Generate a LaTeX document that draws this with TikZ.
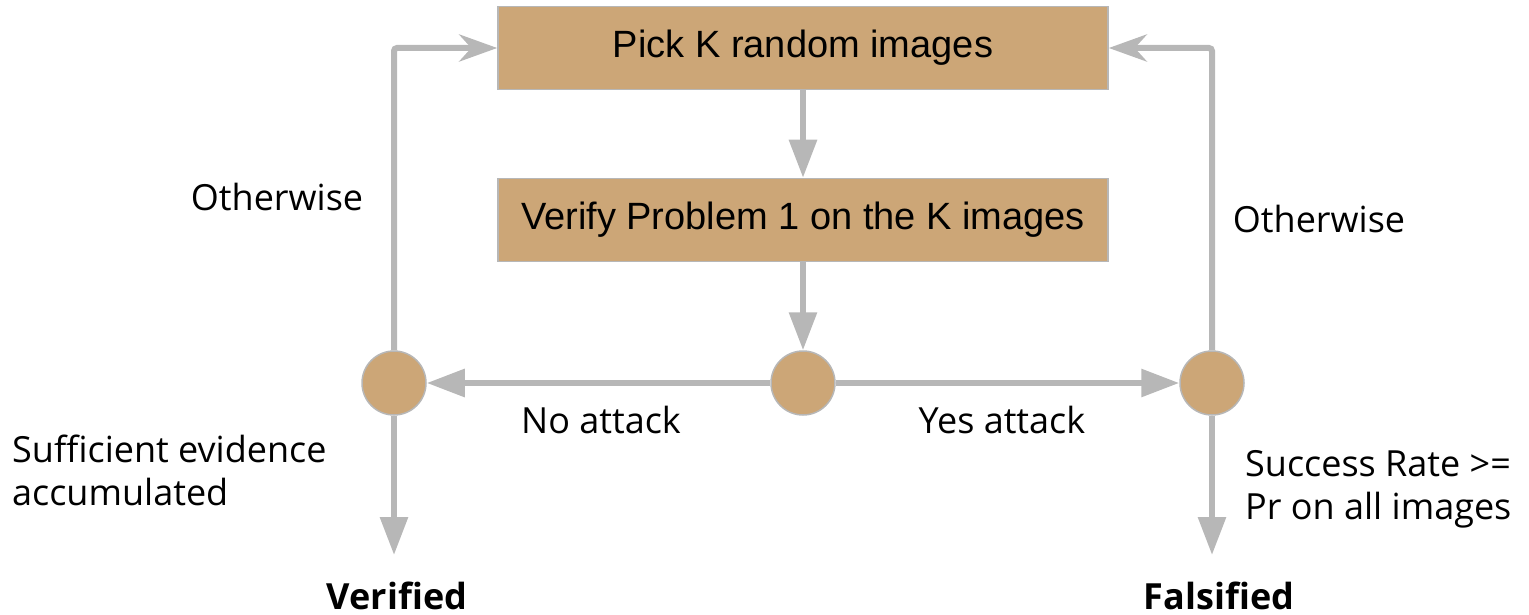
\documentclass[tikz,border=0pt]{standalone}
\usepackage{fontspec}
\setmainfont{Open Sans}
\newfontfamily\boxfont{Liberation Sans}
\usepackage{xcolor}
\usetikzlibrary{arrows.meta, positioning}
\definecolor{boxtan}{RGB}{204,166,119}
\definecolor{linegray}{RGB}{183,183,183}

\begin{document}
\begin{tikzpicture}[
			x=1pt, y=-1pt,
			every node/.style={inner sep=0pt, font=\fontsize{36}{43}\selectfont},
			process/.style={rectangle, draw=linegray, line width=1.5pt, fill=boxtan, minimum width=610pt, minimum height=83pt, font=\boxfont\fontsize{38}{44}\selectfont},
			junction/.style={circle, draw=linegray, line width=1.5pt, fill=boxtan, minimum size=64pt},
			arrow/.style={-{Triangle[length=38pt, width=27pt]}, draw=linegray, line width=6pt},
			back_arrow/.style={-{Stealth[length=38pt, width=27pt, inset=12pt]}, draw=linegray, line width=6pt, rounded corners=3pt}
			]
			\useasboundingbox (0,0) rectangle (1529,615);
			
			% Nodes
			\node (pick_images) [process] at (803,48) {Pick K random images};
			\node (verify_k) [process] at (803,220) {Verify Problem 1 on the K images};
			\node (mid_dot) [junction] at (803,383) {};
			\node (left_dot) [junction] at (394,383) {};
			\node (right_dot) [junction] at (1212,383) {};
			\node (verified) [anchor=base] at (397,609) {\bfseries Verified};
			\node (falsified) [anchor=base] at (1219,609) {\bfseries Falsified};
			\coordinate (verified_in) at (394,555);
			\coordinate (falsified_in) at (1212,555);
			
			% Labels
			\node (left_other) [anchor=base] at (277,211) {Otherwise};
			\node (right_other) [anchor=base] at (1319,232) {Otherwise};
			\node (no_attack) [anchor=base] at (601,433) {No attack};
			\node (yes_attack) [anchor=base] at (1002,433) {Yes attack};
			\node (evidence) [anchor=west, align=left] at (12,470) {Sufficient evidence\\accumulated};
			\node (success) [anchor=west, align=left] at (1245,489) {Success Rate >=\\Pr on all images};
			
			% Connections
			\draw [arrow] (pick_images) -- (verify_k);
			\draw [arrow] (verify_k) -- (mid_dot);
			\draw [arrow] (mid_dot) -- (left_dot);
			\draw [arrow] (mid_dot) -- (right_dot);
			\draw [arrow] (left_dot) -- (verified_in);
			\draw [arrow] (right_dot) -- (falsified_in);
			\draw [back_arrow] (left_dot.north) |- (pick_images.west);
			\draw [back_arrow] (right_dot.north) |- (pick_images.east);
			
		\end{tikzpicture}
\end{document}
